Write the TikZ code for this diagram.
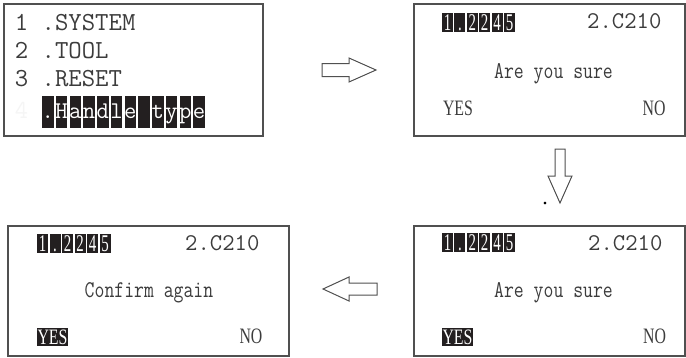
\documentclass[tikz,border=0pt]{standalone}
\usepackage{fontspec}
\setmainfont{Liberation Serif}
\usetikzlibrary{positioning}

\definecolor{lcdink}{HTML}{3C3C3C}
\definecolor{lcdframe}{HTML}{505050}
\definecolor{lcdbar}{HTML}{231F20}
\newcommand{\narrow}[1]{\scalebox{0.72}[1]{#1}}
\newcommand{\slim}[1]{\scalebox{0.62}[1]{#1}}
\newcommand{\squeeze}[1]{\scalebox{0.8}[1]{#1}}

\begin{document}
\begin{tikzpicture}[x=1pt,y=-1pt]
\tikzset{
  screen/.style={draw=lcdframe, line width=1.3pt, inner sep=0pt},
  menutext/.style={text=lcdink, inner sep=0pt, anchor=base west, font=\fontsize{26}{26}\ttfamily},
  lcdtext/.style={text=lcdink, inner sep=0pt, font=\fontsize{24}{24}\ttfamily},
  keytext/.style={text=lcdink, inner sep=0pt, anchor=base, font=\fontsize{22}{22}\selectfont},
  menucell/.style={fill=lcdbar, text=white, inner sep=0pt, minimum width=11.7pt, text height=22pt, text depth=10pt, anchor=base, font=\fontsize{24}{24}\ttfamily},
  digitcell/.style={fill=lcdbar, text=white, inner sep=0pt, minimum width=11pt, text height=17pt, text depth=2pt, anchor=base, font=\fontsize{24}{24}\selectfont},
  keycell/.style={fill=lcdbar, text=white, inner sep=0pt, minimum width=31pt, text height=16pt, text depth=2pt, anchor=base, font=\fontsize{22}{22}\selectfont},
  blockarrow/.style={draw=lcdframe, line width=1pt, fill=white, line join=miter},
}
\useasboundingbox (0,0) rectangle (686,357);

% screens
\node[screen, minimum width=259pt, minimum height=132pt] (menu) at (133.5,70) {};
\node[screen, minimum width=271pt, minimum height=132pt] (ask) at (549.5,70) {};
\node[screen, minimum width=271pt, minimum height=130pt] (sure) at (549.5,291) {};
\node[screen, minimum width=281pt, minimum height=130pt] (again) at (148.5,291) {};

% menu screen
\node[menutext] (m1) at (14.7,30) {1 .SYSTEM};
\node[menutext] (m2) at (14.7,58) {2 .TOOL};
\node[menutext] (m3) at (14.7,86) {3 .RESET};
\node[menutext, text=gray!8] (m4) at (14.7,118) {4};
\foreach \c [count=\i from 0] in {.,H,a,n,d,l,e,{},t,y,p,e}
  \node[menucell] (hl\i) at (47.85+13.75*\i,118) {\makebox[0pt]{\c}};

% first question
\foreach \c [count=\i from 0] in {1,.,2,2,4,5}
  \node[digitcell] (ta\i) at (447.5+12.4*\i,30) {\makebox[0pt]{\slim{\c}}};
\node[lcdtext, anchor=base west] (tb1) at (587,28) {2.C210};
\node[lcdtext, anchor=base] (q1) at (553.5,78) {\squeeze{Are you sure}};
\node[keytext] (yes1) at (458,115) {\narrow{YES}};
\node[keytext] (no1) at (654,115) {\narrow{NO}};

% question with YES marked
\foreach \c [count=\i from 0] in {1,.,2,2,4,5}
  \node[digitcell] (tc\i) at (447.5+12.4*\i,250) {\makebox[0pt]{\slim{\c}}};
\node[lcdtext, anchor=base west] (tb2) at (588,250) {2.C210};
\node[lcdtext, anchor=base] (q2) at (553.5,297) {\squeeze{Are you sure}};
\node[keycell] (yes2) at (457.5,344) {\narrow{YES}};
\node[keytext] (no2) at (654.5,343) {\narrow{NO}};

% confirm screen
\foreach \c [count=\i from 0] in {1,.,2,2,4,5}
  \node[digitcell] (td\i) at (42.5+12.5*\i,251) {\makebox[0pt]{\slim{\c}}};
\node[lcdtext, anchor=base west] (tb3) at (185,250) {2.C210};
\node[lcdtext, anchor=base] (q3) at (149,297) {\squeeze{Confirm again}};
\node[keycell] (yes3) at (52.5,344) {\narrow{YES}};
\node[keytext] (no3) at (251,343) {\narrow{NO}};

% arrows between screens
\draw[blockarrow] (322,63.5) -- (349,63.5) -- (349,58) -- (376,70) -- (349,82) -- (349,76.5) -- (322,76.5) -- cycle;
\draw[blockarrow] (555,149) -- (565,149) -- (565,176) -- (572,176) -- (560,203) -- (548,176) -- (555,176) -- cycle;
\draw[blockarrow] (377,283) -- (349,283) -- (349,277) -- (323,289) -- (349,301) -- (349,295) -- (377,295) -- cycle;
\node[keytext, text=black] (dot) at (545,204) {.};
\end{tikzpicture}
\end{document}
